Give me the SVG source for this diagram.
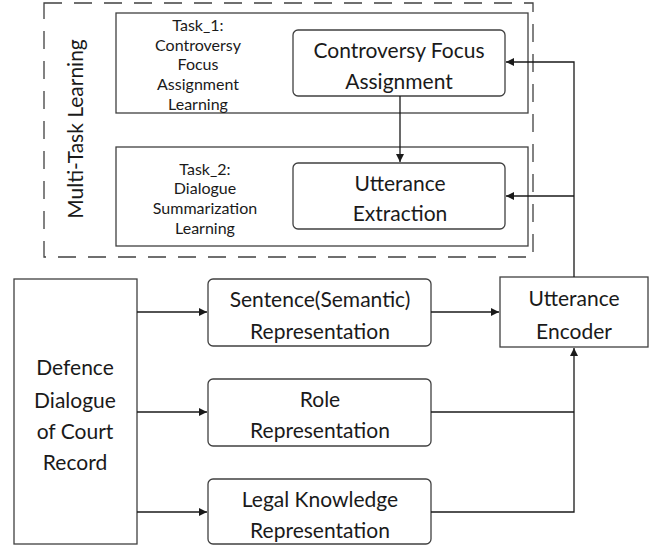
<svg xmlns="http://www.w3.org/2000/svg" width="655" height="546" viewBox="0 0 655 546">
<defs>
<marker id="ah" viewBox="0 0 10 10" refX="10" refY="5" markerWidth="8" markerHeight="8" markerUnits="userSpaceOnUse" orient="auto">
<path d="M0,0 L10,5 L0,10 z" fill="#1a1a1a"/>
</marker>
<style>
.box{fill:#fff;stroke:#404040;stroke-width:1.3}
.dash{fill:none;stroke:#404040;stroke-width:1.3;stroke-dasharray:18,12}
.ln{fill:none;stroke:#1a1a1a;stroke-width:1.3}
.t{font-family:Lato,"Open Sans",sans-serif;font-size:21px;fill:#1a1a1a;text-anchor:middle;dominant-baseline:central}
.s{font-family:Lato,"Open Sans",sans-serif;font-size:16px;fill:#1a1a1a;text-anchor:middle;dominant-baseline:central}
</style>
</defs>
<rect width="655" height="546" fill="#fff"/>
<g id="multitask">
<rect class="dash" x="44" y="3" width="489" height="254"/>
<text class="t" transform="translate(74,129) rotate(-90)" style="font-size:21px">Multi-Task Learning</text>
</g>
<g id="task1">
<rect class="box" x="116" y="13" width="412" height="100"/>
<text class="s" x="198" y="24">Task_1:</text>
<text class="s" x="198" y="44">Controversy</text>
<text class="s" x="198" y="63">Focus</text>
<text class="s" x="198" y="83">Assignment</text>
<text class="s" x="198" y="103">Learning</text>
</g>
<g id="task2">
<rect class="box" x="116" y="147" width="412" height="99"/>
<text class="s" x="205" y="168">Task_2:</text>
<text class="s" x="205" y="187">Dialogue</text>
<text class="s" x="205" y="207">Summarization</text>
<text class="s" x="205" y="227">Learning</text>
</g>
<g id="cfa">
<rect class="box" x="293" y="30" width="212" height="66" rx="5"/>
<text class="t" x="399" y="49">Controversy Focus</text>
<text class="t" x="399" y="80">Assignment</text>
</g>
<g id="ue">
<rect class="box" x="293" y="163" width="212" height="66" rx="5"/>
<text class="t" x="400" y="182">Utterance</text>
<text class="t" x="400" y="212">Extraction</text>
</g>
<g id="defence">
<rect class="box" x="14" y="279" width="123" height="265"/>
<text class="t" x="75" y="366">Defence</text>
<text class="t" x="75" y="399">Dialogue</text>
<text class="t" x="75" y="430">of Court</text>
<text class="t" x="75" y="461">Record</text>
</g>
<g id="sentence">
<rect class="box" x="208" y="279" width="223" height="67" rx="5"/>
<text class="t" x="320" y="298">Sentence(Semantic)</text>
<text class="t" x="320" y="330">Representation</text>
</g>
<g id="role">
<rect class="box" x="208" y="379" width="223" height="67" rx="5"/>
<text class="t" x="320" y="398">Role</text>
<text class="t" x="320" y="429">Representation</text>
</g>
<g id="legal">
<rect class="box" x="208" y="479" width="223" height="65" rx="5"/>
<text class="t" x="320" y="498">Legal Knowledge</text>
<text class="t" x="320" y="529">Representation</text>
</g>
<g id="encoder">
<rect class="box" x="500" y="277" width="148" height="70"/>
<text class="t" x="574" y="297">Utterance</text>
<text class="t" x="574" y="330">Encoder</text>
</g>
<g id="connectors">
<line class="ln" x1="400" y1="96" x2="400" y2="162" marker-end="url(#ah)"/>
<polyline class="ln" points="574,277 574,62 506,62" marker-end="url(#ah)"/>
<line class="ln" x1="574" y1="196" x2="506" y2="196" marker-end="url(#ah)"/>
<line class="ln" x1="137" y1="312" x2="207" y2="312" marker-end="url(#ah)"/>
<line class="ln" x1="137" y1="412" x2="207" y2="412" marker-end="url(#ah)"/>
<line class="ln" x1="137" y1="512" x2="207" y2="512" marker-end="url(#ah)"/>
<line class="ln" x1="431" y1="312" x2="499" y2="312" marker-end="url(#ah)"/>
<polyline class="ln" points="431,412 574,412"/>
<polyline class="ln" points="431,512 574,512 574,348" marker-end="url(#ah)"/>
</g>
</svg>
